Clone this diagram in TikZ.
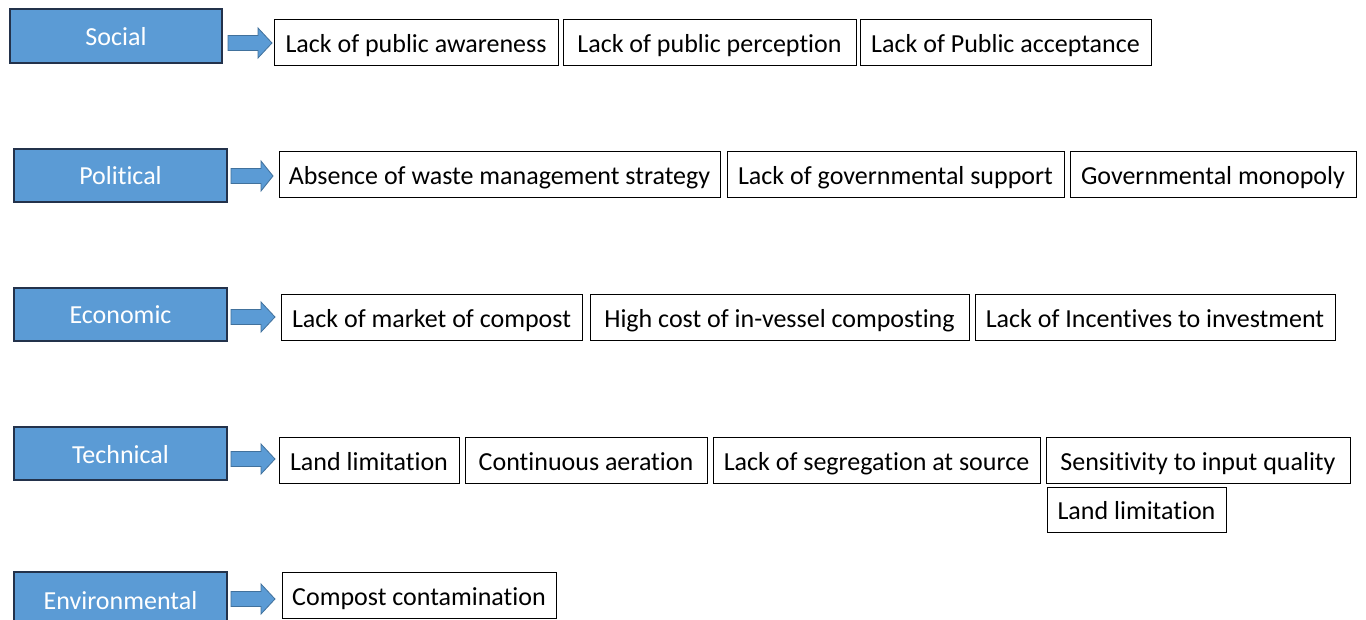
\documentclass[tikz,border=0pt]{standalone}
\usepackage{fontspec}
\setmainfont[Ligatures=NoCommon]{Carlito}
\definecolor{blu}{RGB}{91,155,213}
\definecolor{bluedge}{RGB}{35,50,75}
\definecolor{arredge}{RGB}{65,113,156}
\tikzset{
 cat/.style={draw=bluedge, line width=1.3pt, fill=blu, text=white, font=\fontsize{26}{30}\selectfont, inner sep=0pt, text height=24pt, text depth=5pt},
 item/.style={draw=black, line width=1pt, fill=white, font=\fontsize{26}{30}\selectfont, inner sep=0pt, text height=24pt, text depth=4pt},
 barrow/.style={draw=arredge, line width=0.8pt, fill=blu}
}
\newcommand{\bx}[7]{\node[#6, minimum width={(#4-#2)*1pt}, minimum height={(#5-#3)*1pt}] (#1) at ({(#2+#4)/2},{(#3+#5)/2}) {#7};}
\newcommand{\farrow}[3]{\draw[barrow] (#1,#3) ++(0,-7.5) -- ++(30,0) -- ++(0,-7.5) -- ++(#2-#1-30,15) -- ++(-#2+#1+30,15) -- ++(0,-7.5) -- ++(-30,0) -- cycle;}
\begin{document}
\begin{tikzpicture}[x=1pt,y=-1pt]
\clip (0,0) rectangle (1366,620);
\useasboundingbox (0,0) rectangle (1366,620);
\fill[white] (0,0) rectangle (1366,620);
% Social
\bx{soc}{10}{9}{222}{63}{cat}{Social}
\bx{s1}{274}{20}{558}{66}{item}{Lack of public awareness}
\bx{s2}{563}{20}{856}{66}{item}{Lack of public perception}
\bx{s3}{860}{20}{1151}{66}{item}{Lack of Public acceptance}
\farrow{228}{272}{43}
% Political
\bx{pol}{14}{149}{227}{202}{cat}{Political}
\bx{p1}{279}{152}{720}{198}{item}{Absence of waste management strategy}
\bx{p2}{727}{152}{1064}{198}{item}{Lack of governmental support}
\bx{p3}{1070}{152}{1356}{198}{item}{Governmental monopoly}
\farrow{231}{273}{176}
% Economic
\bx{eco}{14}{288}{227}{341}{cat}{Economic}
\bx{e1}{281}{295}{582}{341}{item}{Lack of market of compost}
\bx{e2}{590}{295}{969}{341}{item}{High cost of in-vessel composting}
\bx{e3}{975}{295}{1335}{341}{item}{Lack of Incentives to investment}
\farrow{231}{275}{317}
% Technical
\bx{tec}{14}{427}{227}{480}{cat}{Technical}
\bx{t1}{279}{437}{459}{483}{item}{Land limitation}
\bx{t2}{465}{437}{707}{483}{item}{Continuous aeration}
\bx{t3}{713}{437}{1040}{483}{item}{Lack of segregation at source}
\bx{t4}{1046}{437}{1350}{483}{item}{Sensitivity to input quality}
\bx{t5}{1047}{487}{1226}{532}{item}{Land limitation}
\farrow{231}{275}{459}
% Environmental
\bx{env}{14}{572}{227}{628}{cat}{Environmental}
\bx{v1}{282}{572}{556}{618}{item}{Compost contamination}
\farrow{231}{275}{599}
\end{tikzpicture}
\end{document}
